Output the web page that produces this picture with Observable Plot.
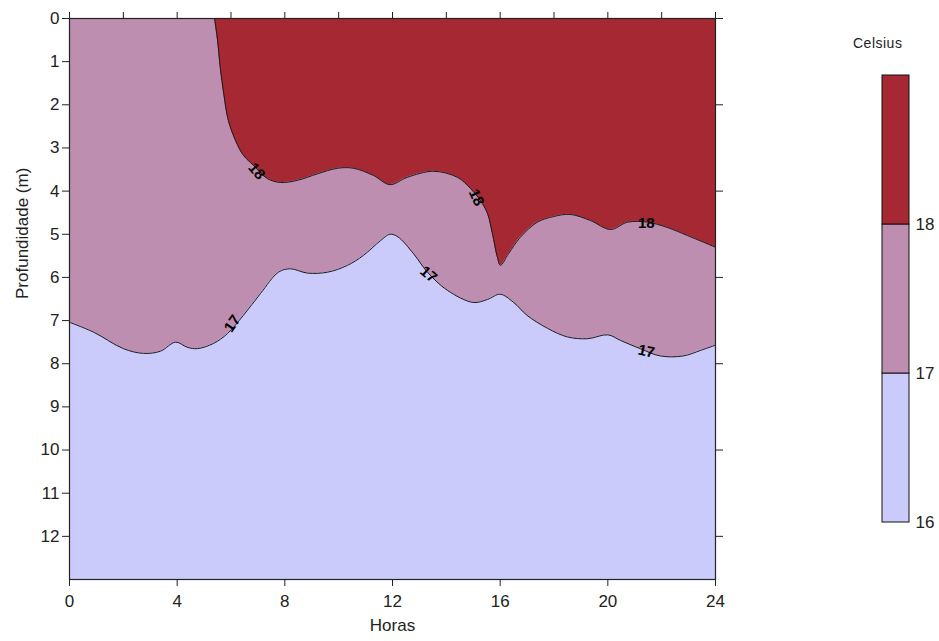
<!DOCTYPE html>
<html>
<head>
<meta charset="utf-8">
<script src="https://cdn.jsdelivr.net/npm/d3@7"></script>
<script src="https://cdn.jsdelivr.net/npm/@observablehq/plot@0.6"></script>
<style>
  body { margin: 0; background: #fff; font-family: "Liberation Sans", Arial, sans-serif; }
  #wrap { position: relative; width: 939px; height: 641px; overflow: hidden; }
  #main { position: absolute; left: 0; top: 0; }
  #legend { position: absolute; left: 840px; top: 0; }
  #legtitle { position: absolute; left: 853px; top: 35px; font-size: 14px; color: #222; letter-spacing: 0.5px; }
</style>
</head>
<body>
<div id="wrap">
  <div id="main"></div>
  <div id="legend"></div>
  <div id="legtitle">Celsius</div>
</div>
<script>
// 17 °C isotherm (hour, depth m)
const hours17 = [0, 0.9, 2.0, 2.75, 3.38, 3.94, 4.38, 4.75, 5.35, 5.87, 6.46, 7.1, 7.76, 8.2, 8.84, 9.58, 10.33, 10.92, 11.55, 11.9, 12.2, 12.78, 13.3, 14.04, 15.0, 15.53, 16.0, 16.5, 17.0, 17.76, 18.5, 19.25, 20.0, 20.47, 21.2, 21.95, 22.8, 23.45, 24];
const depth17 = [7.04, 7.27, 7.65, 7.76, 7.71, 7.5, 7.62, 7.65, 7.53, 7.3, 6.88, 6.37, 5.88, 5.8, 5.9, 5.88, 5.72, 5.49, 5.15, 5.0, 5.06, 5.45, 5.88, 6.3, 6.58, 6.51, 6.39, 6.58, 6.88, 7.18, 7.38, 7.42, 7.33, 7.46, 7.65, 7.82, 7.82, 7.69, 7.57];
// 18 °C isotherm (hour, depth m)
const hours18 = [5.39, 5.5, 5.6, 5.73, 5.9, 6.17, 6.46, 6.83, 7.35, 7.84, 8.47, 9.21, 9.96, 10.55, 11.3, 11.9, 12.55, 13.52, 14.41, 14.9, 15.27, 15.53, 15.71, 15.9, 16.01, 16.31, 16.75, 17.38, 17.98, 18.6, 19.35, 20.1, 20.73, 21.47, 22.2, 22.96, 24];
const depth18 = [0, 0.5, 1.13, 1.74, 2.36, 2.83, 3.17, 3.4, 3.71, 3.8, 3.75, 3.6, 3.47, 3.47, 3.64, 3.85, 3.68, 3.54, 3.68, 3.94, 4.22, 4.52, 4.98, 5.54, 5.72, 5.45, 5.07, 4.72, 4.59, 4.54, 4.68, 4.89, 4.72, 4.72, 4.84, 5.03, 5.3];
// contour labels
const labelText  = ["18", "18", "18", "17", "17", "17"];
const labelHour  = [6.95, 15.12, 21.43, 6.05, 13.34, 21.43];
const labelDepth = [3.54, 4.15, 4.75, 7.07, 5.93, 7.71];
const labelAngle = [50, 65, 0, -55, 40, 12];
// legend
const legendLevels = [16, 17, 18, 19];
const legendTicks = [16, 17, 18];
const xTicks = [0, 4, 8, 12, 16, 20, 24];
const yTicks = [0, 1, 2, 3, 4, 5, 6, 7, 8, 9, 10, 11, 12];

const colLow = "#cbcbfb", colMid = "#bd8eb0", colHigh = "#a52833";
const iso17 = hours17.map((h, i) => ({h, d: depth17[i]}));
const iso18 = hours18.map((h, i) => ({h, d: depth18[i]}));
const labels = labelText.map((t, i) => ({t, h: labelHour[i], d: labelDepth[i], r: labelAngle[i]}));
const curve = "catmull-rom";
const font = "Liberation Sans, Arial, sans-serif";

const main = Plot.plot({
  width: 939, height: 641,
  marginLeft: 69, marginRight: 224, marginTop: 18, marginBottom: 62,
  style: {fontFamily: font, fontSize: "17px", color: "#222", background: "transparent", overflow: "visible"},
  x: {domain: [0, 24]},
  y: {domain: [0, 13], reverse: true},
  marks: [
    Plot.frame({fill: colLow, stroke: null}),
    Plot.areaY(iso17, {x: "h", y1: 0, y2: "d", fill: colMid, curve}),
    Plot.areaY(iso18, {x: "h", y1: 0, y2: "d", fill: colHigh, curve}),
    Plot.line(iso17, {x: "h", y: "d", stroke: "#1a1a1a", strokeWidth: 1, curve}),
    Plot.line(iso18, {x: "h", y: "d", stroke: "#1a1a1a", strokeWidth: 1, curve}),
    Plot.text(labels, {x: "h", y: "d", text: "t", rotate: "r", fontSize: 15, fontWeight: "bold", fill: "#000"}),
    Plot.frame({stroke: "#222", strokeWidth: 1.2}),
    Plot.axisX({anchor: "bottom", ticks: xTicks, tickSize: 7, tickPadding: 8, label: null, stroke: "#222"}),
    Plot.axisX({anchor: "top", ticks: d3.range(0, 25, 2), tickSize: 7, tickFormat: () => "", label: null, stroke: "#222"}),
    Plot.axisY({anchor: "left", ticks: yTicks, tickSize: 7, tickPadding: 3, label: null, stroke: "#222"}),
    Plot.axisY({anchor: "right", ticks: d3.range(0, 13, 2), tickSize: 7, tickFormat: () => "", label: null, stroke: "#222"}),
    Plot.text(["Profundidade (m)"], {frameAnchor: "left", dx: -47, rotate: -90, fontSize: 17, fill: "#222"}),
    Plot.text(["Horas"], {frameAnchor: "bottom", dy: 51, fontSize: 17, fill: "#222"})
  ]
});
document.getElementById("main").appendChild(main);

const bands = legendLevels.slice(0, -1).map((lo, i) => ({lo, hi: legendLevels[i + 1]}));
const legend = Plot.plot({
  width: 99, height: 641,
  marginLeft: 42, marginRight: 30, marginTop: 75, marginBottom: 119,
  style: {fontFamily: font, fontSize: "17px", color: "#222", background: "transparent", overflow: "visible"},
  y: {domain: [16, 19]},
  color: {domain: [16, 17, 18], range: [colLow, colMid, colHigh]},
  marks: [
    Plot.rect(bands, {y1: "lo", y2: "hi", fill: "lo", stroke: "#111", strokeWidth: 1}),
    Plot.axisY({anchor: "right", ticks: legendTicks, tickSize: 0, tickPadding: 6, label: null, tickFormat: d => String(d), textOverflow: null, lineWidth: Infinity})
  ]
});
document.getElementById("legend").appendChild(legend);
</script>
</body>
</html>
